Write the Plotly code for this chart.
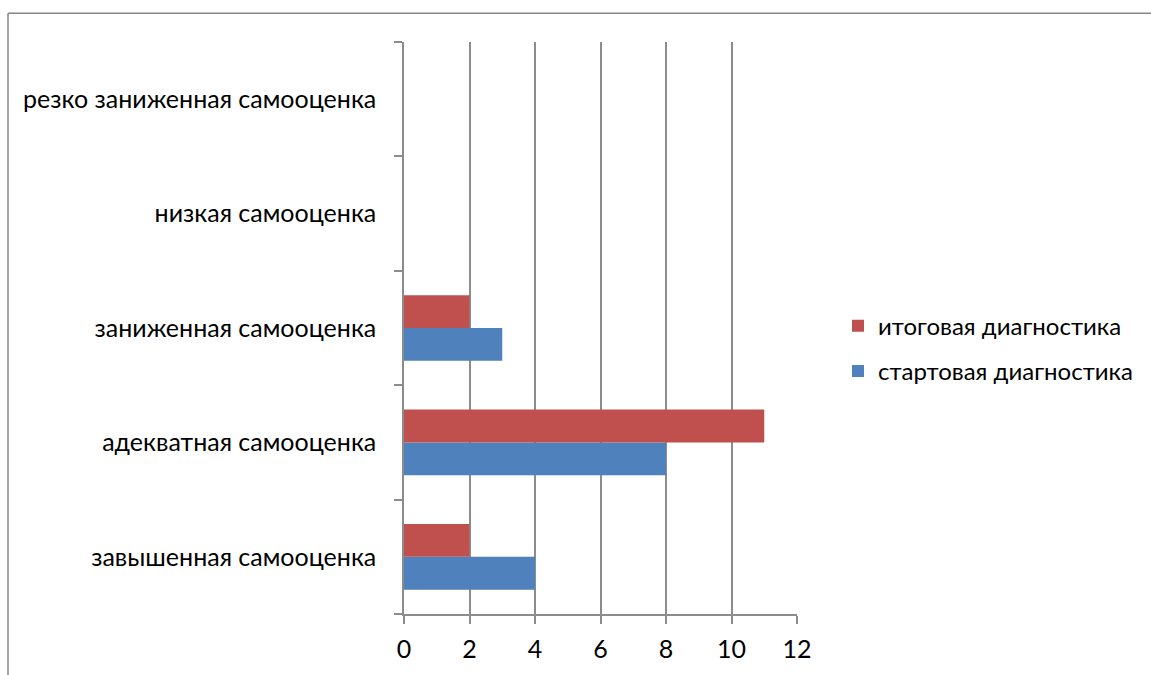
import plotly.graph_objects as go

categories = ["завышенная самооценка", "адекватная самооценка", "заниженная самооценка",
              "низкая самооценка", "резко заниженная самооценка"]
start_values = [4, 8, 3, 0, 0]
final_values = [2, 11, 2, 0, 0]
x_ticks = [0, 2, 4, 6, 8, 10, 12]

W, H = 1151, 675
L, R, T, B = 404, 797, 42, 617
pw, ph = R - L, B - T

fig = go.Figure()
fig.add_trace(go.Bar(y=categories, x=start_values, orientation="h", name="стартовая диагностика",
                     marker=dict(color="#4F81BD", line=dict(width=0)),
                     legendgroup="a", legendrank=2))
fig.add_trace(go.Bar(y=categories, x=final_values, orientation="h", name="итоговая диагностика",
                     marker=dict(color="#C0504D", line=dict(width=0)),
                     legendgroup="b", legendrank=1))

font = dict(family="Lato, Carlito, Calibri, sans-serif", size=25, color="#000000")
lfont = dict(family="Lato, Carlito, Calibri, sans-serif", size=24, color="#000000")
grid = "#8C8C8C"
border = dict(color="#868686", width=1.5)
bx0, by_top = (8 - L) / pw, 1 + (T - 13) / ph
fig.update_layout(
    width=W, height=H,
    margin=dict(l=L, r=W - R, t=T, b=H - B, pad=0),
    paper_bgcolor="white", plot_bgcolor="white",
    barmode="group", bargap=0.426, bargroupgap=0,
    font=font,
    showlegend=True,
    legend=dict(x=(838 - L) / pw, y=1 - (305 - T) / ph, xanchor="left", yanchor="top",
                tracegroupgap=11, font=lfont, bgcolor="rgba(0,0,0,0)", itemwidth=30),
    xaxis=dict(range=[0, 12], tickvals=x_ticks, showgrid=True, gridcolor=grid, gridwidth=1.5,
               showline=True, linecolor=grid, linewidth=1.5, ticks="outside", ticklen=8,
               tickcolor=grid, tickwidth=1.5, zeroline=False, ticklabelstandoff=4),
    yaxis=dict(categoryorder="array", categoryarray=categories, showgrid=False,
               showline=True, linecolor=grid, linewidth=1.5, ticks="outside", ticklen=8,
               tickcolor=grid, tickwidth=1.5, tickson="boundaries", ticklabelstandoff=21,
               range=[-0.5, 4.5]),
    shapes=[
        dict(type="line", xref="paper", yref="paper", x0=bx0, x1=(W + 20 - L) / pw,
             y0=by_top, y1=by_top, line=border, layer="below"),
        dict(type="line", xref="paper", yref="paper", x0=bx0, x1=bx0,
             y0=by_top, y1=-(H + 20 - B) / ph, line=border, layer="below"),
    ],
)
fig.write_html("out.html", config={"displayModeBar": False},
               post_script="document.body.style.margin='0px';document.body.style.overflow='hidden';")
